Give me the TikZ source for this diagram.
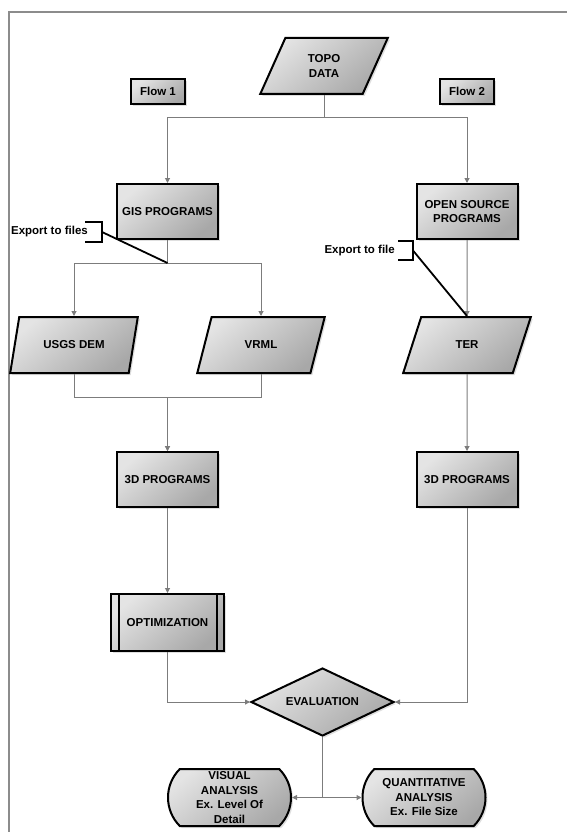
\documentclass[tikz,border=0pt]{standalone}
\usepackage{fontspec}
\setmainfont{Liberation Sans}
\usetikzlibrary{arrows.meta,positioning,shapes.geometric,shapes.misc,shadows}
\definecolor{BoxLight}{HTML}{E4E4E4}
\definecolor{BoxDark}{HTML}{A8A8A8}
\definecolor{LineGray}{HTML}{7C7C7C}
\definecolor{FrameGray}{HTML}{8C8C8C}
\tikzset{
  boxfont/.style={font=\fontsize{11.5}{14.5}\selectfont\bfseries},
  shadedbox/.style={draw=black,line width=2pt,top color=BoxLight,bottom color=BoxDark,shading angle=40,drop shadow={opacity=0.25,shadow xshift=2pt,shadow yshift=-2pt},boxfont,align=center,inner sep=2pt},
  procbox/.style={shadedbox,rectangle,minimum width=101pt,minimum height=55pt},
  databox/.style={shadedbox,trapezium,trapezium left angle=66,trapezium right angle=114,trapezium stretches=true,minimum width=128pt,minimum height=56pt},
  flowtag/.style={shadedbox,rectangle,minimum width=54pt,minimum height=25pt},
  optbox/.style={shadedbox,rectangle,minimum width=113pt,minimum height=57pt},
  decisionbox/.style={shadedbox,diamond,aspect=2.07,minimum width=143pt,minimum height=68pt,inner sep=0pt},
  displaybox/.style={shadedbox,rounded rectangle,rounded rectangle arc length=90,minimum width=123pt,minimum height=57pt,inner sep=0pt},
  notetext/.style={boxfont,inner sep=0pt},
  flowarrow/.style={-{Triangle[length=5pt,width=5pt]},line width=1pt,draw=LineGray},
  notebracket/.style={line width=1.8pt,draw=black}
}
\begin{document}
\begin{tikzpicture}[x=1pt,y=-1pt]
\useasboundingbox (0,0) rectangle (567,832);
\draw[draw=FrameGray,line width=1.2pt] (9,12) rectangle (600,860);
% input and the two flows
\node[databox] (topo) at (324,66) {TOPO\\DATA};
\node[procbox,below=88pt of topo,xshift=-156.5pt] (gis) {GIS PROGRAMS};
\node[procbox,below=88pt of topo,xshift=143pt] (osp) {OPEN SOURCE\\PROGRAMS};
\node[flowtag,above=78pt of gis,xshift=-9.5pt] (flow1) {Flow 1};
\node[flowtag,above=78pt of osp] (flow2) {Flow 2};
\node[databox,below=76pt of gis,xshift=-93.5pt] (usgs) {USGS DEM};
\node[databox,below=76pt of gis,xshift=93.5pt] (vrml) {VRML};
\node[databox,below=76pt of osp] (ter) {TER};
\node[procbox,below=77pt of vrml,xshift=-93.5pt] (model1) {3D PROGRAMS};
\node[procbox,below=77pt of ter] (model2) {3D PROGRAMS};
\node[optbox,below=85pt of model1] (opt) {OPTIMIZATION};
\draw[line width=2pt] ([xshift=8.5pt]opt.north west) -- ([xshift=8.5pt]opt.south west);
\draw[line width=2pt] ([xshift=-8.5pt]opt.north east) -- ([xshift=-8.5pt]opt.south east);
% evaluation and results
\node[decisionbox,below=15pt of opt,xshift=155pt] (eval) {EVALUATION};
\node[displaybox,below=31pt of eval,xshift=-93pt] (visual) {VISUAL\\ANALYSIS\\Ex. Level Of\\Detail};
\node[displaybox,below=31pt of eval,xshift=101.5pt] (quant) {QUANTITATIVE\\ANALYSIS\\Ex. File Size};
% connectors
\draw[flowarrow] (topo.south) -- ++(0,22) -| (gis.north);
\draw[flowarrow] (topo.south) -- ++(0,22) -| (osp.north);
\coordinate[below=23pt of gis.south] (gissplit);
\draw[flowarrow] (gis.south) -- (gissplit) -| (usgs.north);
\draw[flowarrow] (gissplit) -| (vrml.north);
\draw[flowarrow] (osp) -- (ter);
\draw[flowarrow] (usgs.south) -- ++(0,23) -| (model1.north);
\draw[flowarrow] (vrml.south) -- ++(0,23) -| (model1.north);
\draw[flowarrow] (ter) -- (model2);
\draw[flowarrow] (model1) -- (opt);
\draw[flowarrow] (opt.south) |- (eval.west);
\draw[flowarrow] (model2.south) |- (eval.east);
\draw[flowarrow] (eval.south) |- (visual.east);
\draw[flowarrow] (eval.south) |- (quant.west);
% export notes
\node[notetext,anchor=east] (exp1) at (88,232) {Export to files};
\coordinate[right=14pt of exp1.east] (exp1tip);
\draw[notebracket] (exp1tip) ++(-17,-10) -| ++(17,20) -- ++(-17,0);
\draw[notebracket] (exp1tip) -- (gissplit);
\node[notetext,anchor=east] (exp2) at (395,250.5) {Export to file};
\coordinate[right=18pt of exp2.east] (exp2tip);
\draw[notebracket] (exp2tip) ++(-15,-9.5) -| ++(15,19) -- ++(-15,0);
\draw[notebracket] (exp2tip) -- (ter.north);
\end{tikzpicture}
\end{document}
